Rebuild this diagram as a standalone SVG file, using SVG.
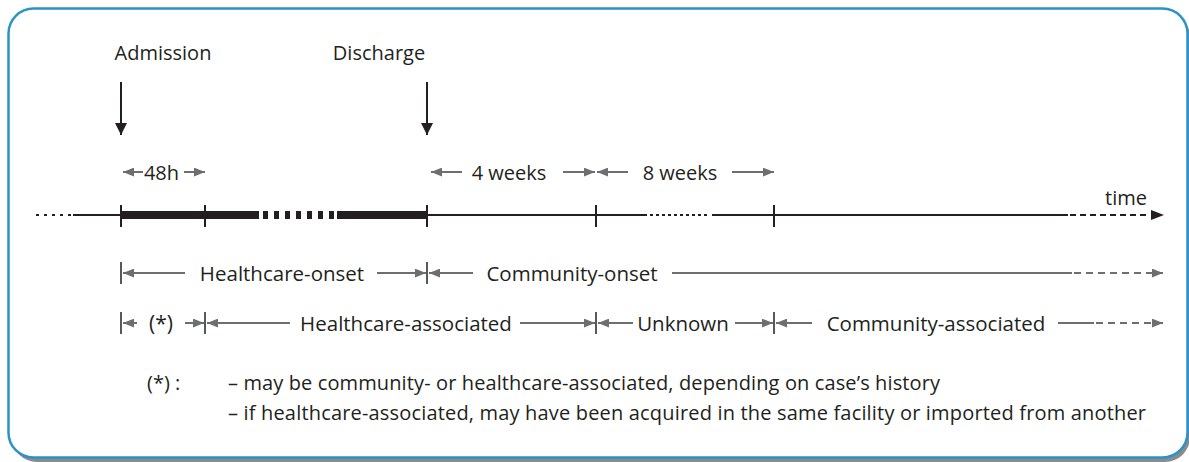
<svg xmlns="http://www.w3.org/2000/svg" width="1189" height="462" viewBox="0 0 1189 462">
<style>
text{font-family:"Open Sans","Noto Sans","Liberation Sans",sans-serif;font-size:20px;fill:#231f20}
.m{text-anchor:middle}
.r{font-size:20.5px}
.g{stroke:#6d6e71;stroke-width:2;fill:none}
.ga{stroke:#6d6e71;stroke-width:2;fill:none;marker-end:url(#ah)}
.gd{stroke:#6d6e71;stroke-width:2;fill:none;stroke-dasharray:7 5}
.bar{stroke:#58595b;stroke-width:2}
.k{stroke:#231f20;stroke-width:2;fill:none}
.tick{stroke:#231f20;stroke-width:2}
</style>
<defs>
<marker id="ah" viewBox="0 0 10 8" refX="10" refY="4" markerWidth="11" markerHeight="9" markerUnits="userSpaceOnUse" orient="auto"><path d="M0,0L10,4L0,8z" fill="#6d6e71"/></marker>
<marker id="bh" viewBox="0 0 12 12" refX="12" refY="6" markerWidth="13" markerHeight="12" markerUnits="userSpaceOnUse" orient="auto"><path d="M0,0L12,6L0,12z" fill="#231f20"/></marker>
</defs>
<g id="frame">
<rect x="12" y="12" width="1178" height="450" rx="25" fill="#8a8b8d"/>
<rect x="8.5" y="8.5" width="1179" height="449" rx="25" fill="#ffffff" stroke="#2b93c8" stroke-width="2.5"/>
</g>
<g id="admission">
<text class="m" x="163" y="60">Admission</text>
<line class="k" x1="121" y1="82" x2="121" y2="135" marker-end="url(#bh)"/>
</g>
<g id="discharge">
<text class="m" x="379" y="60">Discharge</text>
<line class="k" x1="427" y1="82" x2="427" y2="135" marker-end="url(#bh)"/>
</g>
<g id="timeline">
<line x1="36" y1="215" x2="74" y2="215" stroke="#231f20" stroke-width="1.8" stroke-dasharray="3 5"/>
<line x1="73" y1="215" x2="121" y2="215" stroke="#231f20" stroke-width="1.8"/>
<line x1="121" y1="215" x2="259" y2="215" stroke="#231f20" stroke-width="8"/>
<line x1="263" y1="215" x2="334" y2="215" stroke="#231f20" stroke-width="8" stroke-dasharray="5 6"/>
<line x1="337" y1="215" x2="427" y2="215" stroke="#231f20" stroke-width="8"/>
<line x1="427" y1="215" x2="647" y2="215" stroke="#231f20" stroke-width="1.8"/>
<line x1="650" y1="215" x2="710" y2="215" stroke="#231f20" stroke-width="1.8" stroke-dasharray="3 3"/>
<line x1="712" y1="215" x2="1068" y2="215" stroke="#231f20" stroke-width="1.8"/>
<line x1="1070" y1="215" x2="1150" y2="215" stroke="#231f20" stroke-width="1.8" stroke-dasharray="6 4"/>
<path d="M1151,210L1164,215L1151,220z" fill="#231f20"/>
<line class="tick" x1="121" y1="205" x2="121" y2="227"/>
<line class="tick" x1="205" y1="205" x2="205" y2="227"/>
<line class="tick" x1="427" y1="205" x2="427" y2="227"/>
<line class="tick" x1="596" y1="205" x2="596" y2="227"/>
<line class="tick" x1="774" y1="205" x2="774" y2="227"/>
<text x="1105" y="205">time</text>
</g>
<g id="span-48h">
<line class="ga" x1="143" y1="172" x2="123" y2="172"/>
<text class="m" x="161.5" y="180">48h</text>
<line class="ga" x1="184" y1="172" x2="205" y2="172"/>
</g>
<g id="span-4weeks">
<line class="ga" x1="462" y1="172" x2="431" y2="172"/>
<text class="m" x="509" y="180">4 weeks</text>
<line class="ga" x1="563" y1="172" x2="595" y2="172"/>
</g>
<g id="span-8weeks">
<line class="ga" x1="628" y1="172" x2="597" y2="172"/>
<text class="m" x="680" y="180">8 weeks</text>
<line class="ga" x1="732" y1="172" x2="774" y2="172"/>
</g>
<g id="healthcare-onset">
<line class="bar" x1="121" y1="262" x2="121" y2="284"/>
<line class="ga" x1="185" y1="273" x2="123" y2="273"/>
<text class="m r" x="282" y="281">Healthcare-onset</text>
<line class="ga" x1="377" y1="273" x2="426" y2="273"/>
<line class="bar" x1="427" y1="262" x2="427" y2="284"/>
</g>
<g id="community-onset">
<line class="ga" x1="473" y1="273" x2="429" y2="273"/>
<text class="m r" x="572" y="281">Community-onset</text>
<line class="g" x1="672" y1="273" x2="1072" y2="273"/>
<line class="gd" x1="1074" y1="273" x2="1163" y2="273" marker-end="url(#ah)"/>
</g>
<g id="star-period">
<line class="bar" x1="121" y1="312" x2="121" y2="334"/>
<line class="ga" x1="137" y1="323" x2="123" y2="323"/>
<text class="m" x="161" y="331" style="font-size:21px">(*)</text>
<line class="ga" x1="185" y1="323" x2="204" y2="323"/>
<line class="bar" x1="205" y1="312" x2="205" y2="334"/>
</g>
<g id="healthcare-associated">
<line class="ga" x1="290" y1="323" x2="207" y2="323"/>
<text class="m r" x="406" y="331">Healthcare-associated</text>
<line class="ga" x1="520" y1="323" x2="595" y2="323"/>
<line class="bar" x1="596" y1="312" x2="596" y2="334"/>
</g>
<g id="unknown">
<line class="ga" x1="633" y1="323" x2="598" y2="323"/>
<text class="m r" x="683" y="331">Unknown</text>
<line class="ga" x1="735" y1="323" x2="773" y2="323"/>
<line class="bar" x1="774" y1="312" x2="774" y2="334"/>
</g>
<g id="community-associated">
<line class="ga" x1="812" y1="323" x2="776" y2="323"/>
<text class="m r" x="936" y="331">Community-associated</text>
<line class="g" x1="1058" y1="323" x2="1094" y2="323"/>
<line class="gd" x1="1096" y1="323" x2="1163" y2="323" marker-end="url(#ah)"/>
</g>
<g id="footnote">
<text x="147" y="390">(*) :</text>
<text x="228" y="390" textLength="712" lengthAdjust="spacing">– may be community- or healthcare-associated, depending on case’s history</text>
<text x="228" y="420" textLength="918" lengthAdjust="spacing">– if healthcare-associated, may have been acquired in the same facility or imported from another</text>
</g>
</svg>
